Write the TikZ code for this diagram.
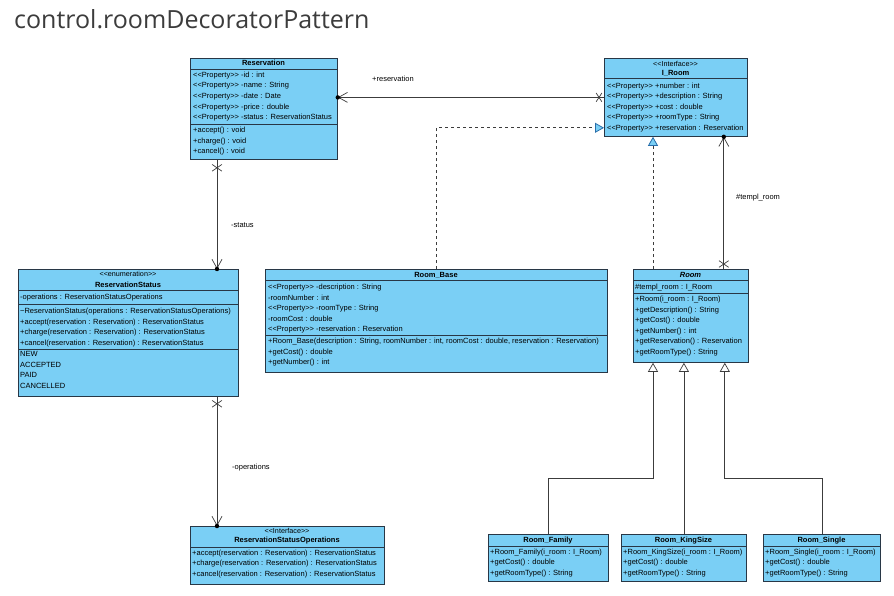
\documentclass[tikz,border=0pt]{standalone}
\usepackage{fontspec}
\setmainfont{Liberation Sans}
\newfontfamily\titlefont{Open Sans}
\usetikzlibrary{arrows.meta,shapes.misc}
\definecolor{cls}{RGB}{122,207,245}
\definecolor{bord}{RGB}{40,55,70}
\definecolor{ln}{RGB}{60,60,60}
\definecolor{tri}{RGB}{40,110,170}
\definecolor{ttlc}{RGB}{60,60,60}
\newcommand\pp{<{}<Property>{}> }
\begin{document}
\begin{tikzpicture}[x=1pt,y=-1pt,
  box/.style={draw=bord,fill=cls,line width=0.8pt,inner sep=0,anchor=north west},
  txt/.style={anchor=west,inner sep=0,font=\fontsize{7.5}{9}\selectfont,text height=5.5pt,text depth=1.5pt},
  ttl/.style={anchor=center,inner sep=0,font=\fontsize{7.5}{9}\selectfont\bfseries,text height=5.5pt,text depth=1.5pt},
  ster/.style={anchor=center,inner sep=0,font=\fontsize{7.2}{9}\selectfont,text height=5.5pt,text depth=1.5pt},
  lbl/.style={anchor=west,inner sep=0,font=\fontsize{7.5}{9}\selectfont,text height=5.5pt,text depth=1.5pt},
  sepl/.style={draw=bord,line width=0.8pt},
  assoc/.style={draw=ln,line width=0.7pt,-{Straight Barb[length=9pt,width=10pt,line width=0.7pt]}},
  real/.style={draw=ln,line width=0.7pt,dash pattern=on 3pt off 3pt,-{Triangle[length=9pt,width=10pt,fill=cls,color=tri,line width=0.8pt]}},
  gen/.style={draw=ln,line width=0.7pt,-{Triangle[open,length=9pt,width=10pt,line width=0.7pt]}},
  xmh/.style={draw=ln,cross out,minimum width=5pt,minimum height=8pt,inner sep=0,line width=0.7pt},
  xmv/.style={draw=ln,cross out,minimum width=9pt,minimum height=6pt,inner sep=0,line width=0.7pt},
  dotc/.style={fill=black}
]
\fill[white] (0,0) rectangle (894,595);
\useasboundingbox (0,0) rectangle (894,595);

\node[anchor=base west,inner sep=0,font=\titlefont\fontsize{25}{30}\selectfont,text=ttlc] (title) at (14,28) {control.roomDecoratorPattern};

% ---------- Reservation ----------
\node[box,minimum width=147,minimum height=101] (res) at (190,58) {};
\node[ttl] at (263.5,63.5) {Reservation};
\draw[sepl] (res.west |- 0,69) -- (res.east |- 0,69);
\node[txt] at (193,75) {\pp-id : int};
\node[txt] at (193,85.7) {\pp-name : String};
\node[txt] at (193,96.4) {\pp-date : Date};
\node[txt] at (193,107.1) {\pp-price : double};
\node[txt] at (193,117.8) {\pp-status : ReservationStatus};
\draw[sepl] (res.west |- 0,124) -- (res.east |- 0,124);
\node[txt] at (193,130.5) {+accept() : void};
\node[txt] at (193,141) {+charge() : void};
\node[txt] at (193,151.5) {+cancel() : void};

% ---------- I_Room ----------
\node[box,minimum width=143,minimum height=78] (ir) at (604,58) {};
\node[ster] at (675.5,64) {<{}<Interface>{}>};
\node[ttl] at (675.5,73.5) {I\_Room};
\draw[sepl] (ir.west |- 0,78.5) -- (ir.east |- 0,78.5);
\node[txt] at (607,86) {\pp+number : int};
\node[txt] at (607,96.6) {\pp+description : String};
\node[txt] at (607,107.2) {\pp+cost : double};
\node[txt] at (607,117.8) {\pp+roomType : String};
\node[txt] at (607,128.4) {\pp+reservation : Reservation};

% ---------- ReservationStatus ----------
\node[box,minimum width=220,minimum height=127] (rs) at (18,269) {};
\node[ster] at (128,274.5) {<{}<enumeration>{}>};
\node[ttl] at (128,285) {ReservationStatus};
\draw[sepl] (rs.west |- 0,290.5) -- (rs.east |- 0,290.5);
\node[txt] at (20,297.5) {-operations : ReservationStatusOperations};
\draw[sepl] (rs.west |- 0,304) -- (rs.east |- 0,304);
\node[txt] at (20,311.5) {\textasciitilde ReservationStatus(operations : ReservationStatusOperations)};
\node[txt] at (20,322) {+accept(reservation : Reservation) : ReservationStatus};
\node[txt] at (20,332.5) {+charge(reservation : Reservation) : ReservationStatus};
\node[txt] at (20,343) {+cancel(reservation : Reservation) : ReservationStatus};
\draw[sepl] (rs.west |- 0,349) -- (rs.east |- 0,349);
\node[txt] at (20,354.5) {NEW};
\node[txt] at (20,365) {ACCEPTED};
\node[txt] at (20,375.5) {PAID};
\node[txt] at (20,386) {CANCELLED};

% ---------- Room_Base ----------
\node[box,minimum width=342,minimum height=103] (rb) at (265,269) {};
\node[ttl] at (436,275) {Room\_Base};
\draw[sepl] (rb.west |- 0,280.5) -- (rb.east |- 0,280.5);
\node[txt] at (268,287.5) {\pp-description : String};
\node[txt] at (268,298) {-roomNumber : int};
\node[txt] at (268,308.5) {\pp-roomType : String};
\node[txt] at (268,319) {-roomCost : double};
\node[txt] at (268,329.5) {\pp-reservation : Reservation};
\draw[sepl] (rb.west |- 0,335) -- (rb.east |- 0,335);
\node[txt] at (268,341.5) {+Room\_Base(description : String, roomNumber : int, roomCost : double, reservation : Reservation)};
\node[txt] at (268,352) {+getCost() : double};
\node[txt] at (268,362.5) {+getNumber() : int};

% ---------- Room ----------
\node[box,minimum width=115,minimum height=93] (room) at (633,269) {};
\node[ttl,font=\fontsize{7.5}{9}\selectfont\bfseries\itshape] at (690.5,275) {Room};
\draw[sepl] (room.west |- 0,280.5) -- (room.east |- 0,280.5);
\node[txt] at (635,287.5) {\#templ\_room : I\_Room};
\draw[sepl] (room.west |- 0,293) -- (room.east |- 0,293);
\node[txt] at (635,299.5) {+Room(i\_room : I\_Room)};
\node[txt] at (635,310) {+getDescription() : String};
\node[txt] at (635,320.5) {+getCost() : double};
\node[txt] at (635,331) {+getNumber() : int};
\node[txt] at (635,341.5) {+getReservation() : Reservation};
\node[txt] at (635,352) {+getRoomType() : String};

% ---------- ReservationStatusOperations ----------
\node[box,minimum width=194,minimum height=58] (rso) at (190,526) {};
\node[ster] at (287,531) {<{}<Interface>{}>};
\node[ttl] at (287,540.5) {ReservationStatusOperations};
\draw[sepl] (rso.west |- 0,547) -- (rso.east |- 0,547);
\node[txt] at (192,553) {+accept(reservation : Reservation) : ReservationStatus};
\node[txt] at (192,563.5) {+charge(reservation : Reservation) : ReservationStatus};
\node[txt] at (192,574) {+cancel(reservation : Reservation) : ReservationStatus};

% ---------- Room_Family ----------
\node[box,minimum width=120,minimum height=47] (rf) at (488,534) {};
\node[ttl] at (548,540) {Room\_Family};
\draw[sepl] (rf.west |- 0,546) -- (rf.east |- 0,546);
\node[txt] at (490,552) {+Room\_Family(i\_room : I\_Room)};
\node[txt] at (490,562.5) {+getCost() : double};
\node[txt] at (490,573) {+getRoomType() : String};

% ---------- Room_KingSize ----------
\node[box,minimum width=125,minimum height=47] (rk) at (621,534) {};
\node[ttl] at (683.5,540) {Room\_KingSize};
\draw[sepl] (rk.west |- 0,546) -- (rk.east |- 0,546);
\node[txt] at (623,552) {+Room\_KingSize(i\_room : I\_Room)};
\node[txt] at (623,562.5) {+getCost() : double};
\node[txt] at (623,573) {+getRoomType() : String};

% ---------- Room_Single ----------
\node[box,minimum width=117,minimum height=47] (rsg) at (763,534) {};
\node[ttl] at (821.5,540) {Room\_Single};
\draw[sepl] (rsg.west |- 0,546) -- (rsg.east |- 0,546);
\node[txt] at (765,552) {+Room\_Single(i\_room : I\_Room)};
\node[txt] at (765,562.5) {+getCost() : double};
\node[txt] at (765,573) {+getRoomType() : String};

% ---------- connectors ----------
% Reservation -- I_Room
\draw[assoc] (ir.west) -- (ir.west -| res.east);
\fill[dotc] (ir.west -| res.east) circle (2.2);
\node[xmh] at ([xshift=-5pt]ir.west) {};
\node[lbl] at (372,79.3) {+reservation};

% Reservation -- ReservationStatus
\coordinate (s1) at ([xshift=27pt]res.south west);
\draw[assoc] (s1) -- (s1 |- rs.north);
\fill[dotc] (s1 |- rs.north) circle (2.2);
\node[xmv] at ([yshift=-8pt]s1) {};
\node[lbl] at (231,225) {-status};

% ReservationStatus -- ReservationStatusOperations
\coordinate (o1) at ([xshift=199pt]rs.south west);
\draw[assoc] (o1) -- (o1 |- rso.north);
\fill[dotc] (o1 |- rso.north) circle (2.2);
\node[xmv] at ([yshift=-7pt]o1) {};
\node[lbl] at (232,467.5) {-operations};

% Room_Base realizes I_Room
\draw[real] (rb.north) |- ([yshift=9pt]ir.south west);

% Room realizes I_Room
\coordinate (r1) at ([xshift=20pt]room.north west);
\draw[real] (r1) -- (r1 |- ir.south);

% Room -- I_Room association
\coordinate (r2) at ([xshift=-25pt]room.north east);
\draw[assoc] (r2) -- (r2 |- ir.south);
\fill[dotc] (r2 |- ir.south) circle (2.2);
\node[xmv] at ([yshift=5pt]r2) {};
\node[lbl] at (736,197) {\#templ\_room};

% Generalizations
\draw[gen] (rf.north) -- (rf.north |- 0,478) -| ([xshift=20pt]room.south west);
\draw[gen] (rk.north) -- (rk.north |- room.south);
\draw[gen] (rsg.north) -- (rsg.north |- 0,478) -| ([xshift=-24pt]room.south east);
\end{tikzpicture}
\end{document}
